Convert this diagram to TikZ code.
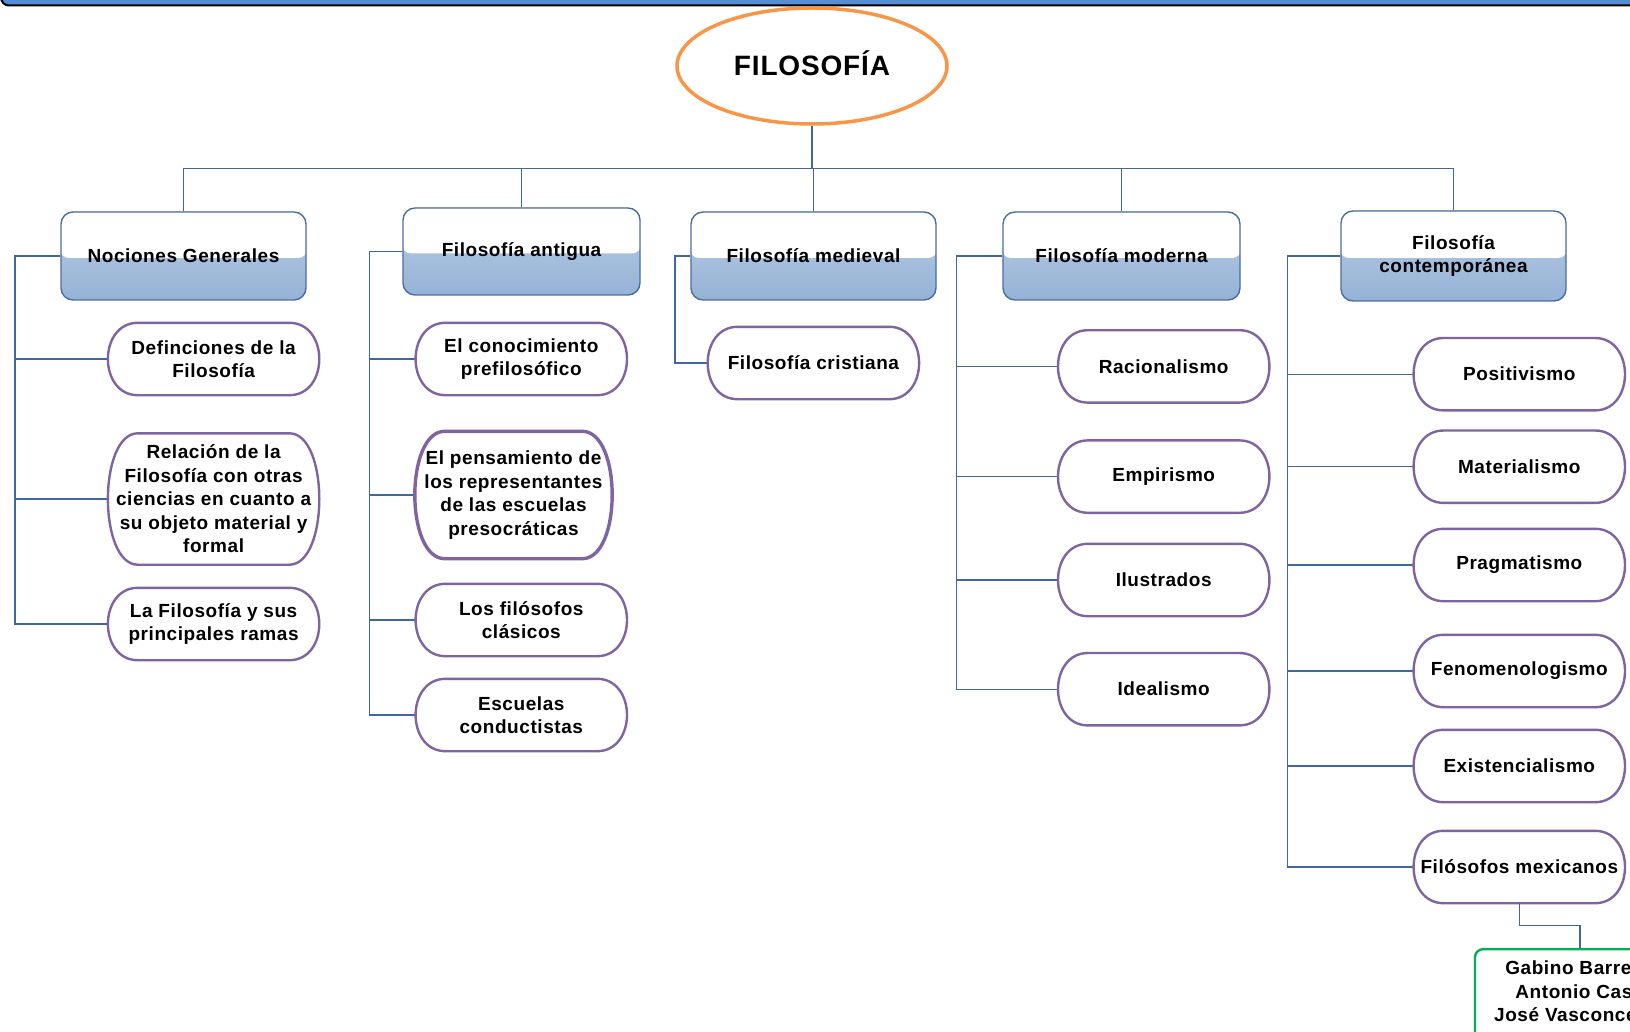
\documentclass[tikz,border=0pt]{standalone}
\usepackage{fontspec}
\setmainfont{Liberation Sans}[LetterSpace=3]
\usetikzlibrary{shapes.geometric}
\definecolor{connc}{HTML}{3F68A3}
\definecolor{hdline}{HTML}{4A6E9E}
\definecolor{hdtop}{HTML}{BDD0E7}
\definecolor{hdbot}{HTML}{93B0D5}
\definecolor{pillc}{HTML}{8064A2}
\definecolor{rootc}{HTML}{F79646}
\definecolor{greenc}{HTML}{00B050}
\definecolor{barblue}{HTML}{558ED5}
\newcommand\txtfont{\fontsize{19pt}{23.5pt}\selectfont\bfseries}
\newcommand\pilloutline[2][]{\draw[pillline,#1] ([xshift=30pt]#2.north west) -- ([xshift=-30pt]#2.north east) .. controls ([xshift=10pt]#2.north east) and ([xshift=10pt]#2.south east) .. ([xshift=-30pt]#2.south east) -- ([xshift=30pt]#2.south west) .. controls ([xshift=-10pt]#2.south west) and ([xshift=-10pt]#2.north west) .. cycle;}
\tikzset{
  conn/.style={draw=connc, line width=1.3pt},
  pillline/.style={draw=pillc, line width=2.4pt},
  pill/.style={rectangle, minimum width=211pt, minimum height=72pt, inner sep=0pt, align=center, font=\txtfont},
  hdr/.style={rectangle, rounded corners=12pt, draw=hdline, line width=1.4pt, minimum height=88pt, inner sep=0pt, align=center, font=\txtfont,
    path picture={
      \fill[top color=hdtop, bottom color=hdbot] ([yshift=5pt]path picture bounding box.north west) rectangle ([yshift=-5pt]path picture bounding box.south east);
      \fill[white, rounded corners=9pt] ([yshift=20pt,xshift=-1pt]path picture bounding box.north west) rectangle ([yshift=-2pt,xshift=1pt]path picture bounding box.east);
    }},
}
\begin{document}
\begin{tikzpicture}[x=1pt,y=-1pt]
\useasboundingbox (0,0) rectangle (1630,1032);
\clip (0,0) rectangle (1630,1032);
\fill[white] (0,0) rectangle (1630,1032);
\draw[line width=2pt, fill=barblue, rounded corners=8pt] (1,-30) rectangle (1680,5.5);

% root
\node[ellipse, draw=rootc, line width=3.5pt, minimum width=270pt, minimum height=116pt, text depth=6pt, font=\fontsize{28pt}{32pt}\selectfont\bfseries] (root) at (812,66) {FILOSOFÍA};

% headers
\node[hdr, minimum width=245pt] (h1) at (183.5,256) {Nociones Generales};
\node[hdr, minimum width=237pt, minimum height=87pt] (h2) at (521.5,251.5) {Filosofía antigua};
\node[hdr, minimum width=245pt] (h3) at (813.5,256) {Filosofía medieval};
\node[hdr, minimum width=237pt] (h4) at (1121.5,256) {Filosofía moderna};
\node[hdr, minimum width=225pt, minimum height=90pt] (h5) at (1453.5,256) {Filosofía\\contemporánea};

\foreach \h in {h1,h2,h3,h4,h5} {\draw[conn] (root.south) -- ++(0,43) -| (\h.north);}

% column 1
\node[pill] (c11) at (213.6,359) {Definciones de la\\Filosofía};
\node[pill, minimum height=131pt] (c12) at (213.6,499) {Relación de la\\Filosofía con otras\\ciencias en cuanto a\\su objeto material y\\formal};
\node[pill] (c13) at (213.6,624) {La Filosofía y sus\\principales ramas};
\foreach \c in {c11,c12,c13} {\draw[conn] (h1.west) -- ++(-45.4,0) |- (\c.west);}

% column 2
\node[pill] (c21) at (521.3,359) {El conocimiento\\prefilosófico};
\node[pill, minimum width=197pt, minimum height=127pt] (c22) at (513.5,495) {El pensamiento de\\los representantes\\de las escuelas\\presocráticas};
\node[pill] (c23) at (521.3,620) {Los filósofos\\clásicos};
\node[pill] (c24) at (521.3,715) {Escuelas\\conductistas};
\foreach \c in {c21,c22,c23,c24} {\draw[conn] (h2.west) -- ++(-33,0) |- (\c.west);}

% column 3
\node[pill] (c31) at (813.4,363) {Filosofía cristiana};
\draw[conn] (h3.west) -- ++(-15.3,0) |- (c31.west);

% column 4
\node[pill] (c41) at (1163.7,366.4) {Racionalismo};
\node[pill] (c42) at (1163.7,476.6) {Empirismo};
\node[pill] (c43) at (1163.7,580) {Ilustrados};
\node[pill] (c44) at (1163.7,689.2) {Idealismo};
\foreach \c in {c41,c42,c43,c44} {\draw[conn] (h4.west) -- ++(-46,0) |- (\c.west);}

% column 5
\node[pill] (c51) at (1519.3,374.2) {Positivismo};
\node[pill] (c52) at (1519.3,466.7) {Materialismo};
\node[pill] (c53) at (1519.3,565) {Pragmatismo};
\node[pill] (c54) at (1519.3,671) {Fenomenologismo};
\node[pill] (c55) at (1519.3,766) {Existencialismo};
\node[pill] (c56) at (1519.3,867) {Filósofos mexicanos};
\foreach \c in {c51,c52,c53,c54,c55,c56} {\draw[conn] (h5.west) -- ++(-53,0) |- (\c.west);}

\foreach \n in {c11,c12,c13,c21,c23,c24,c31,c41,c42,c43,c44,c51,c52,c53,c54,c55,c56} {\pilloutline{\n}}
\pilloutline[line width=3.4pt]{c22}

% green box
\node[rectangle, rounded corners=8pt, draw=greenc, line width=2.4pt, minimum width=210pt, minimum height=140pt, anchor=north, align=center, font=\txtfont, inner ysep=12pt, text depth=70pt] (mex) at (1580,948) {Gabino Barreda\\Antonio Caso\\José Vasconcelos};
\draw[conn] (c56.south) -- ++(0,22) -| (mex.north);
\end{tikzpicture}
\end{document}
